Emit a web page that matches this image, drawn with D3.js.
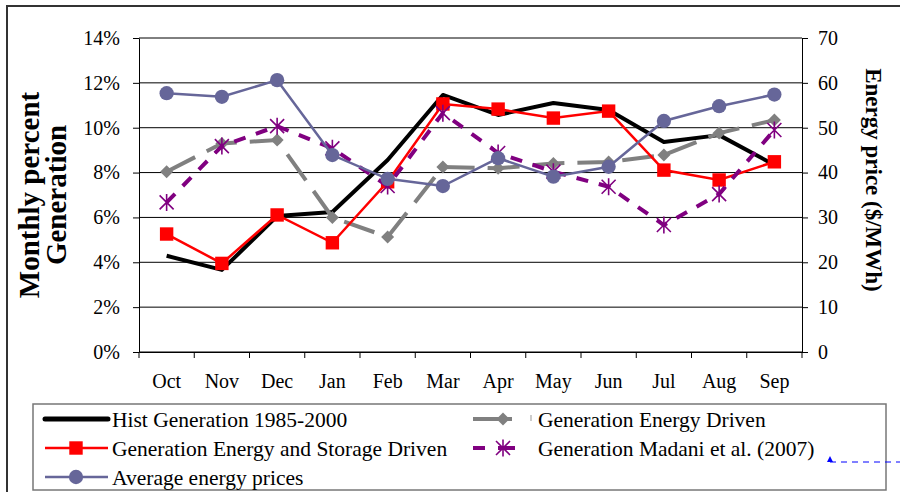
<!DOCTYPE html>
<html>
<head>
<meta charset="utf-8">
<script src="https://cdn.jsdelivr.net/npm/d3@7"></script>
<style>
body { margin: 0; background: #fff; }
text { font-family: "Liberation Serif", "Times New Roman", serif; fill: #000; }
</style>
</head>
<body>
<div id="chart"></div>
<script>
var width = 900;
var height = 492;

var months = ["Oct", "Nov", "Dec", "Jan", "Feb", "Mar", "Apr", "May", "Jun", "Jul", "Aug", "Sep"];
var histGen = [4.29, 3.66, 6.06, 6.24, 8.56, 11.46, 10.57, 11.10, 10.79, 9.36, 9.67, 8.34];
var energyGen = [8.04, 9.30, 9.45, 6.00, 5.13, 8.25, 8.19, 8.41, 8.47, 8.78, 9.76, 10.34];
var storageGen = [5.26, 3.95, 6.11, 4.87, 7.59, 11.06, 10.83, 10.43, 10.74, 8.11, 7.67, 8.48];
var madaniGen = [6.67, 9.18, 10.07, 9.08, 7.40, 10.65, 8.87, 8.04, 7.37, 5.66, 7.04, 9.90];
var prices = [57.7, 56.9, 60.6, 43.9, 38.6, 37.0, 43.2, 39.1, 41.3, 51.5, 54.8, 57.4];

var pctTicks = [0, 2, 4, 6, 8, 10, 12, 14];
var priceTicks = [0, 10, 20, 30, 40, 50, 60, 70];

var plotLeft = 139, plotRight = 802, plotTop = 38, plotBottom = 352;

var svg = d3.select("#chart").append("svg")
  .attr("width", width)
  .attr("height", height);

// outer frame
svg.append("path")
  .attr("d", "M7,492 L7,6 L900,6")
  .attr("fill", "none")
  .attr("stroke", "#333")
  .attr("stroke-width", 2);

var x = d3.scaleBand().domain(months).range([plotLeft, plotRight]).padding(0);
var y = d3.scaleLinear().domain([0, 14]).range([plotBottom, plotTop]);
var y2 = d3.scaleLinear().domain([0, 70]).range([plotBottom, plotTop]);
function cx(d, i) { return x(months[i]) + x.bandwidth() / 2; }

// gridlines
svg.append("g").selectAll("line")
  .data(pctTicks)
  .enter().append("line")
  .attr("x1", plotLeft).attr("x2", plotRight)
  .attr("y1", function(d) { return y(d); })
  .attr("y2", function(d) { return y(d); })
  .attr("stroke", "#000")
  .attr("stroke-width", 1);

// left axis
var yAxis = svg.append("g")
  .attr("transform", "translate(" + plotLeft + ",0)")
  .call(d3.axisLeft(y).tickValues(pctTicks).tickSize(6).tickSizeOuter(0).tickPadding(13)
    .tickFormat(function(d) { return d + "%"; }));

// right axis
var y2Axis = svg.append("g")
  .attr("transform", "translate(" + plotRight + ",0)")
  .call(d3.axisRight(y2).tickValues(priceTicks).tickSize(6).tickSizeOuter(0).tickPadding(10));

// bottom axis: labels at band centres, ticks at band edges
var xAxis = svg.append("g")
  .attr("transform", "translate(0," + plotBottom + ")")
  .call(d3.axisBottom(x).tickSize(0).tickPadding(22).tickSizeOuter(0));
xAxis.append("g").selectAll("line")
  .data(d3.range(months.length + 1))
  .enter().append("line")
  .attr("x1", function(i) { return plotLeft + i * x.step(); })
  .attr("x2", function(i) { return plotLeft + i * x.step(); })
  .attr("y1", 0).attr("y2", 6)
  .attr("stroke", "#000");

[yAxis, y2Axis, xAxis].forEach(function(g) {
  g.selectAll("text").style("font-size", "20px").style("font-family", "'Liberation Serif', serif").attr("fill", "#000");
  g.selectAll("path, line").attr("stroke", "#000");
});

// axis titles
svg.append("text")
  .attr("transform", "translate(39,195) rotate(-90)")
  .attr("text-anchor", "middle")
  .style("font-size", "29px").style("font-weight", "bold")
  .text("Monthly percent");
svg.append("text")
  .attr("transform", "translate(66,195) rotate(-90)")
  .attr("text-anchor", "middle")
  .style("font-size", "29px").style("font-weight", "bold")
  .text("Generation");
svg.append("text")
  .attr("transform", "translate(866,180) rotate(90)")
  .attr("text-anchor", "middle")
  .style("font-size", "23px").style("font-weight", "bold")
  .text("Energy price ($/MWh)");

// markers
var squarePath = d3.symbol().type(d3.symbolSquare).size(180)();
var circlePath = d3.symbol().type(d3.symbolCircle).size(160)();
var diamondPath = "M0,-6.5L6.5,0L0,6.5L-6.5,0Z";
var starPath = "M-7,-7L7,7M-7,7L7,-7M0,-8.5L0,8.5";

var line = d3.line().x(cx).y(function(d) { return y(d); });
var line2 = d3.line().x(cx).y(function(d) { return y2(d); });

// Hist Generation
svg.append("path").datum(histGen)
  .attr("d", line).attr("fill", "none")
  .attr("stroke", "#000").attr("stroke-width", 4).attr("stroke-linejoin", "round");

// Generation Energy Driven
svg.append("path").datum(energyGen)
  .attr("d", line).attr("fill", "none")
  .attr("stroke", "#808080").attr("stroke-width", 4).attr("stroke-dasharray", "32,13");
svg.append("g").selectAll("path").data(energyGen).enter().append("path")
  .attr("d", diamondPath).attr("fill", "#808080")
  .attr("transform", function(d, i) { return "translate(" + cx(d, i) + "," + y(d) + ")"; });

// Generation Energy and Storage Driven
svg.append("path").datum(storageGen)
  .attr("d", line).attr("fill", "none")
  .attr("stroke", "#ff0000").attr("stroke-width", 2.5);
svg.append("g").selectAll("path").data(storageGen).enter().append("path")
  .attr("d", squarePath).attr("fill", "#ff0000")
  .attr("transform", function(d, i) { return "translate(" + cx(d, i) + "," + y(d) + ")"; });

// Generation Madani et al. (2007)
svg.append("path").datum(madaniGen)
  .attr("d", line).attr("fill", "none")
  .attr("stroke", "#800080").attr("stroke-width", 4).attr("stroke-dasharray", "12,11");
svg.append("g").selectAll("path").data(madaniGen).enter().append("path")
  .attr("d", starPath).attr("fill", "none").attr("stroke", "#800080").attr("stroke-width", 1.6)
  .attr("transform", function(d, i) { return "translate(" + cx(d, i) + "," + y(d) + ")"; });

// Average energy prices (secondary axis)
svg.append("path").datum(prices)
  .attr("d", line2).attr("fill", "none")
  .attr("stroke", "#666699").attr("stroke-width", 2.5);
svg.append("g").selectAll("path").data(prices).enter().append("path")
  .attr("d", circlePath).attr("fill", "#666699")
  .attr("transform", function(d, i) { return "translate(" + cx(d, i) + "," + y2(d) + ")"; });

// legend
var legend = svg.append("g");
legend.append("rect")
  .attr("x", 33).attr("y", 404).attr("width", 853).attr("height", 86)
  .attr("fill", "#fff").attr("stroke", "#777").attr("stroke-width", 1.5);

var col1 = [
  { name: "Hist Generation 1985-2000", color: "#000", w: 5, mark: null },
  { name: "Generation Energy and Storage Driven", color: "#ff0000", w: 2.5, mark: squarePath },
  { name: "Average energy prices", color: "#666699", w: 2.5, mark: circlePath }
];
var rowsY = [419, 448, 477];
col1.forEach(function(s, i) {
  legend.append("line")
    .attr("x1", 45).attr("x2", 108).attr("y1", rowsY[i]).attr("y2", rowsY[i])
    .attr("stroke", s.color).attr("stroke-width", s.w).attr("stroke-linecap", i === 0 ? "round" : "butt");
  if (s.mark) {
    legend.append("path").attr("d", s.mark).attr("fill", s.color)
      .attr("transform", "translate(76," + rowsY[i] + ")");
  }
  legend.append("text").attr("x", 112).attr("y", rowsY[i] + 8)
    .style("font-size", "21.5px").text(s.name);
});

// column 2: energy driven
legend.append("line")
  .attr("x1", 473).attr("x2", 512).attr("y1", rowsY[0]).attr("y2", rowsY[0])
  .attr("stroke", "#808080").attr("stroke-width", 4);
legend.append("path").attr("d", diamondPath).attr("fill", "#808080")
  .attr("transform", "translate(503," + rowsY[0] + ")");
legend.append("line")
  .attr("x1", 531).attr("x2", 531).attr("y1", rowsY[0] - 4).attr("y2", rowsY[0] + 2)
  .attr("stroke", "#999").attr("stroke-width", 1);
legend.append("text").attr("x", 538).attr("y", rowsY[0] + 8)
  .style("font-size", "21.5px").text("Generation Energy Driven");

// column 2: Madani
legend.append("line")
  .attr("x1", 473).attr("x2", 485).attr("y1", rowsY[1]).attr("y2", rowsY[1])
  .attr("stroke", "#800080").attr("stroke-width", 4);
legend.append("line")
  .attr("x1", 498).attr("x2", 515).attr("y1", rowsY[1]).attr("y2", rowsY[1])
  .attr("stroke", "#800080").attr("stroke-width", 4);
legend.append("path").attr("d", starPath).attr("fill", "none")
  .attr("stroke", "#800080").attr("stroke-width", 1.6)
  .attr("transform", "translate(503," + rowsY[1] + ")");
legend.append("text").attr("x", 538).attr("y", rowsY[1] + 8)
  .style("font-size", "21.5px").text("Generation Madani et al. (2007)");

// stray blue annotation arrow
svg.append("path")
  .attr("d", "M827,462 L830,456 L833,462 Z")
  .attr("fill", "#0000ff");
svg.append("line")
  .attr("x1", 830).attr("x2", 900).attr("y1", 462).attr("y2", 462)
  .attr("stroke", "#0000ff").attr("stroke-width", 1).attr("stroke-dasharray", "6,5");
</script>
</body>
</html>
